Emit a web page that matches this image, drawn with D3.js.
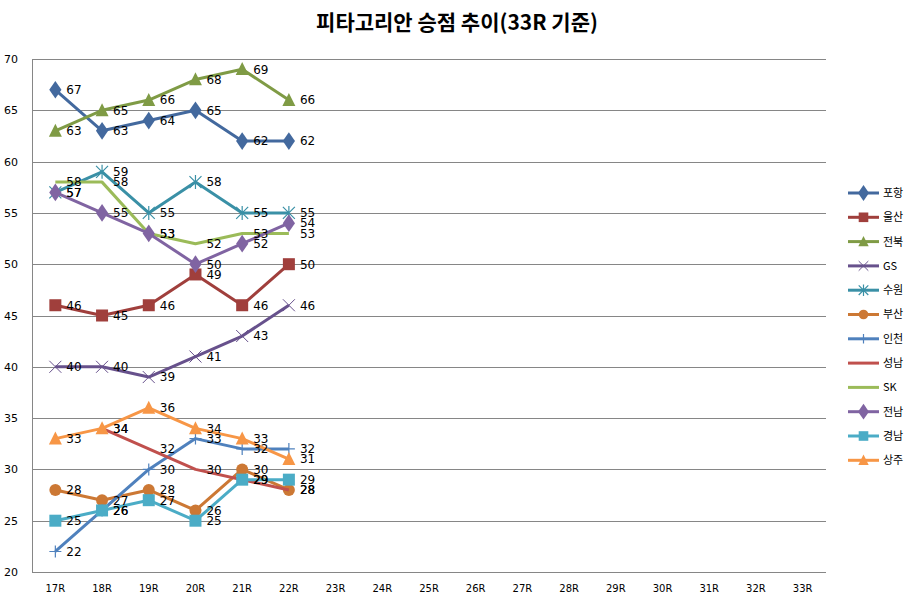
<!DOCTYPE html>
<html>
<head>
<meta charset="utf-8">
<script src="https://cdn.jsdelivr.net/npm/d3@7"></script>
<style>
html,body{margin:0;padding:0;background:#fff;}
svg{display:block;}
</style>
</head>
<body>
<svg id="chart" width="914" height="604"></svg>
<script>
const rounds = ["17R","18R","19R","20R","21R","22R","23R","24R","25R","26R","27R","28R","29R","30R","31R","32R","33R"];
const yTicks = [20,25,30,35,40,45,50,55,60,65,70];
const teams = ["포항","울산","전북","GS","수원","부산","인천","성남","SK","전남","경남","상주"];
const pohang  = [67,63,64,65,62,62];
const ulsan   = [46,45,46,49,46,50];
const jeonbuk = [63,65,66,68,69,66];
const gs      = [40,40,39,41,43,46];
const suwon   = [57,59,55,58,55,55];
const busan   = [28,27,28,26,30,28];
const incheon = [22,26,30,33,32,32];
const seongnam= [null,34,32,30,29,28];
const sk      = [58,58,53,52,53,53];
const jeonnam = [57,55,53,50,52,54];
const gyeongnam=[25,26,27,25,29,29];
const sangju  = [33,34,36,34,33,31];
const seriesValues = [pohang,ulsan,jeonbuk,gs,suwon,busan,incheon,seongnam,sk,jeonnam,gyeongnam,sangju];

const colors = ["#43699E","#A03F3C","#7F9B45","#67518C","#3A90A6","#CC7834","#4F81BD","#C0504D","#9BBB59","#8064A2","#4BACC6","#F79646"];
const markers = ["diamond","square","triangle","x","star","circle","plus","none","none","diamond","square","triangle"];

const svg = d3.select("#chart");
const pLeft = 32, pRight = 826, pTop = 59, pBottom = 572;

const x = d3.scaleBand().domain(rounds).range([pLeft, pRight]);
const y = d3.scaleLinear().domain([20,70]).range([pBottom, pTop]);
const cx = r => x(r) + x.bandwidth()/2;

// title
svg.append("text").attr("x", 457).attr("y", 30).attr("text-anchor","middle")
  .attr("font-family","'Noto Sans CJK KR', sans-serif").attr("font-weight","bold")
  .attr("font-size", 21).attr("fill","#000").text("피타고리안 승점 추이(33R 기준)");

// gridlines
svg.append("g").selectAll("line").data(yTicks).join("line")
  .attr("x1", pLeft).attr("x2", pRight)
  .attr("y1", d => Math.round(y(d))+0.5).attr("y2", d => Math.round(y(d))+0.5)
  .attr("stroke","#868686").attr("stroke-width",1);
svg.append("line").attr("x1",pLeft+0.5).attr("x2",pLeft+0.5).attr("y1",pTop).attr("y2",pBottom)
  .attr("stroke","#868686");

// y axis labels
const yAxis = d3.axisLeft(y).tickValues(yTicks).tickSize(0).tickPadding(0);
const gy = svg.append("g").attr("transform",`translate(${pLeft-14},0)`).call(yAxis);
gy.select(".domain").remove();
gy.selectAll("text").attr("font-family","'DejaVu Sans', sans-serif").attr("font-size",11).attr("fill","#000");

// x axis labels
const xAxis = d3.axisBottom(x).tickSize(0).tickPadding(0);
const gx = svg.append("g").attr("transform",`translate(0,${pBottom+13})`).call(xAxis);
gx.select(".domain").remove();
gx.selectAll("text").attr("font-family","'DejaVu Sans', sans-serif").attr("font-size",10).attr("fill","#000");

function drawMarker(g, type, color, px, py, s) {
  s = s || 1;
  if (type === "diamond") {
    g.append("path").attr("d", d3.symbol().type(d3.symbolDiamond).size(90*s)()).attr("transform",`translate(${px},${py}) scale(1.2,1)`).attr("fill",color);
  } else if (type === "square") {
    const w = 12*s; g.append("rect").attr("x",px-w/2).attr("y",py-w/2).attr("width",w).attr("height",w).attr("fill",color);
  } else if (type === "triangle") {
    const w = 13*s;
    g.append("path").attr("d",`M${px},${py-w*0.55}L${px+w/2},${py+w*0.45}L${px-w/2},${py+w*0.45}Z`).attr("fill",color);
  } else if (type === "circle") {
    g.append("circle").attr("cx",px).attr("cy",py).attr("r",6*s).attr("fill",color);
  } else if (type === "x") {
    const w = 6*s;
    g.append("path").attr("d",`M${px-w},${py-w}L${px+w},${py+w}M${px-w},${py+w}L${px+w},${py-w}`).attr("stroke",color).attr("stroke-width",1);
  } else if (type === "star") {
    const w = 6*s;
    g.append("path").attr("d",`M${px-w},${py-w}L${px+w},${py+w}M${px-w},${py+w}L${px+w},${py-w}M${px},${py-w-1}L${px},${py+w+1}`).attr("stroke",color).attr("stroke-width",1.2);
  } else if (type === "plus") {
    const w = 6*s;
    g.append("path").attr("d",`M${px-w},${py}L${px+w},${py}M${px},${py-w}L${px},${py+w}`).attr("stroke",color).attr("stroke-width",1.2);
  }
}

const line = d3.line().defined(d => d.v !== null).x(d => cx(d.r)).y(d => y(d.v));

const plot = svg.append("g");
seriesValues.forEach((vals, i) => {
  const pts = vals.map((v, j) => ({r: rounds[j], v}));
  const g = plot.append("g");
  g.append("path").datum(pts).attr("d", line).attr("fill","none")
    .attr("stroke", colors[i]).attr("stroke-width", 3).attr("stroke-linejoin","round");
  pts.filter(p => p.v !== null).forEach(p => drawMarker(g, markers[i], colors[i], cx(p.r), y(p.v)));
});

// labels on top
const labels = svg.append("g");
seriesValues.forEach((vals, i) => {
  vals.forEach((v, j) => {
    if (v === null) return;
    labels.append("text").attr("x", cx(rounds[j]) + 11).attr("y", y(v)).attr("dy","0.36em")
      .attr("font-family","'DejaVu Sans', sans-serif").attr("font-size",12).attr("fill","#000").text(v);
  });
});

// legend
const lg = svg.append("g");
teams.forEach((t, i) => {
  const ly = 193 + i*24.3;
  lg.append("line").attr("x1",848).attr("x2",879).attr("y1",ly).attr("y2",ly)
    .attr("stroke",colors[i]).attr("stroke-width",3);
  drawMarker(lg, markers[i], colors[i], 863.5, ly, 0.8);
  lg.append("text").attr("x",883).attr("y",ly).attr("dy","0.36em")
    .attr("font-family","'Noto Sans CJK KR', sans-serif").attr("font-size",11).attr("fill","#000").text(t);
});
</script>
</body>
</html>
